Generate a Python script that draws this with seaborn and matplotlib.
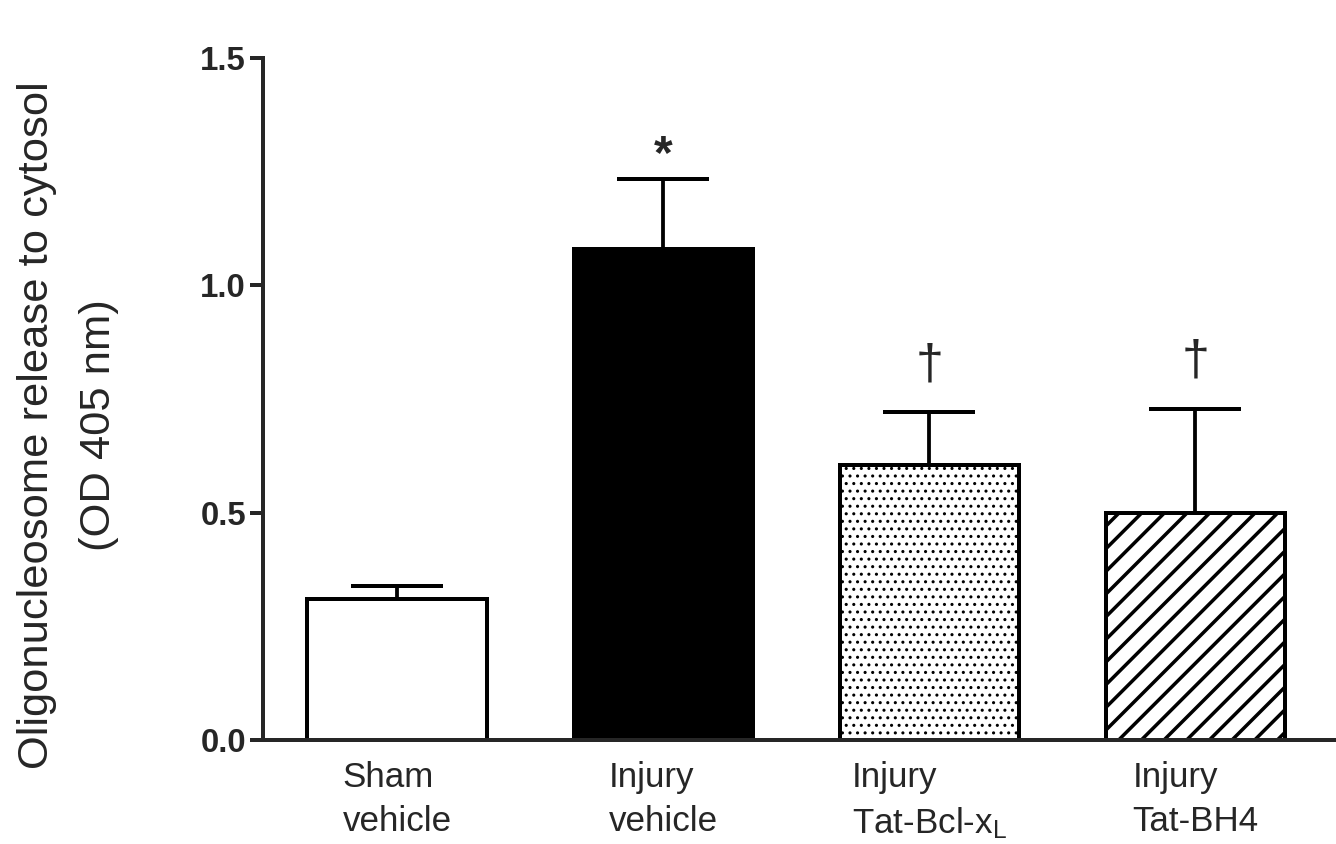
import matplotlib
matplotlib.use("Agg")
import matplotlib.pyplot as plt
import seaborn as sns
import numpy as np

groups = ["Sham\nvehicle", "Injury\nvehicle", "Injury\nTat-Bcl-x$_\\mathrm{L}$", "Injury\nTat-BH4"]
means = [0.31, 1.08, 0.605, 0.50]
sem = [0.029, 0.153, 0.116, 0.228]
marks = ["", "*", "\u2020", "\u2020"]
colors = ["white", "black", "white", "white"]
hatches = [None, None, "...", "//"]

DPI = 136


def pt(px):
    # sizes below in pixels
    return px * 72 / DPI


sns.set_style("ticks")
plt.rcParams["font.family"] = ["Liberation Sans", "DejaVu Sans"]
plt.rcParams["mathtext.fontset"] = "custom"
plt.rcParams["mathtext.rm"] = "Liberation Sans"
plt.rcParams["mathtext.it"] = "Liberation Sans:italic"
plt.rcParams["hatch.color"] = "black"

fig = plt.figure(figsize=(1336 / DPI, 844 / DPI), dpi=DPI)
ax = fig.add_axes([263 / 1336, 104 / 844, 1 - 263 / 1336, 682 / 844])

sns.barplot(x=groups, y=means, hue=groups, palette=colors, legend=False,
            edgecolor="black", linewidth=pt(4), width=0.674, ax=ax)


def with_hatch_lw(patch, lw):
    orig = patch.draw

    def draw(renderer):
        with plt.rc_context({"hatch.linewidth": lw}):
            orig(renderer)
    patch.draw = draw
    if hasattr(patch, "set_hatch_linewidth"):
        patch.set_hatch_linewidth(lw)


for p, h in zip(ax.patches, hatches):
    if h:
        p.set_hatch(h)
        with_hatch_lw(p, pt(3.5) if "/" in h else pt(1.6))

centers = [p.get_x() + p.get_width() / 2 for p in ax.patches]
ax.errorbar(centers, means, yerr=[np.zeros(len(means)), sem], fmt="none",
            ecolor="black", elinewidth=pt(3.8), capsize=pt(46), capthick=pt(4), zorder=3)

tops = np.array(means) + np.array(sem)
for x, t, m in zip(centers, tops, marks):
    if m == "*":
        ax.text(x, t + 0.025, m, ha="center", va="baseline", fontsize=pt(48), fontweight="bold")
    elif m:
        ax.text(x, t + 0.075, m, ha="center", va="baseline", fontsize=pt(50))

ax.set_ylim(0, 1.5)
ax.set_xlim(-0.504, 3.528)
ax.set_yticks([0.0, 0.5, 1.0, 1.5])
ax.set_yticklabels(["0.0", "0.5", "1.0", "1.5"], fontweight="bold", fontsize=pt(33))
for lab in ax.get_xticklabels():
    lab.set_fontsize(pt(35))
    lab.set_multialignment("left")
    lab.set_linespacing(1.42)
ax.tick_params(axis="y", length=pt(13), width=pt(4), pad=pt(4))
ax.tick_params(axis="x", length=0, pad=pt(21))

sns.despine(ax=ax)
for s in ["left", "bottom"]:
    ax.spines[s].set_linewidth(pt(4))
ax.set_xlabel("")

fig.text(68 / 1336, 0.4965, "Oligonucleosome release to cytosol\n(OD 405 nm)",
         rotation=90, ha="center", va="center", multialignment="center",
         fontsize=pt(43.5), linespacing=1.7)

fig.savefig("out.png", dpi=DPI)
